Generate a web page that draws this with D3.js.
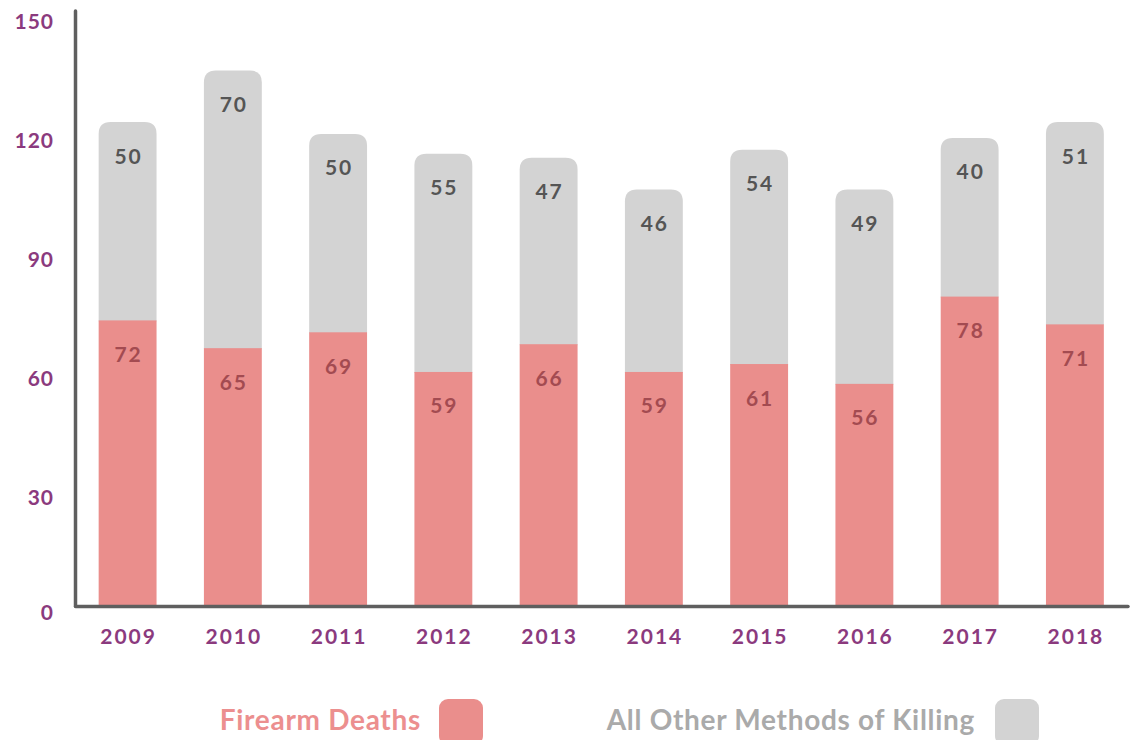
<!DOCTYPE html>
<html><head><meta charset="utf-8">
<script src="https://cdn.jsdelivr.net/npm/d3@7"></script>
<style>
html,body{margin:0;padding:0;background:#fff;}
svg{display:block;font-family:Lato,"Open Sans",sans-serif;}
</style></head>
<body><svg id="c" width="1132" height="740"></svg>
<script>
const years = ["2009","2010","2011","2012","2013","2014","2015","2016","2017","2018"];
const firearm = [72,65,69,59,66,59,61,56,78,71];
const other = [50,70,50,55,47,46,54,49,40,51];
const yTicks = [0,30,60,90,120,150];
const seriesNames = ["Firearm Deaths","All Other Methods of Killing"];

const svg = d3.select("#c");
const y = d3.scaleLinear().domain([0,150]).range([606,11]);
const x = d3.scaleBand().domain(years).range([75.5,1127]).paddingInner(0.45).paddingOuter(0.22);

const pink = "#ea8e8c", grey = "#d3d3d3";
const purple = "#8b3a7e";

// bars
const g = svg.append("g");
years.forEach((yr,i)=>{
  const x0 = x(yr), w = x.bandwidth();
  const top = y(firearm[i]+other[i]), mid = y(firearm[i]), base = y(0);
  const r = 12;
  g.append("path").attr("fill",grey)
    .attr("d",`M${x0},${mid+1} L${x0},${top+r} Q${x0},${top} ${x0+r},${top} L${x0+w-r},${top} Q${x0+w},${top} ${x0+w},${top+r} L${x0+w},${mid+1} Z`);
  g.append("rect").attr("fill",pink).attr("x",x0).attr("y",mid).attr("width",w).attr("height",base-mid);
  g.append("text").attr("x",x0+w/2+1).attr("y",top+33).attr("text-anchor","middle").attr("dominant-baseline","central")
    .attr("fill","#555").attr("font-size",21).attr("font-weight",700).attr("letter-spacing",2).text(other[i]);
  g.append("text").attr("x",x0+w/2+1).attr("y",mid+33).attr("text-anchor","middle").attr("dominant-baseline","central")
    .attr("fill","#a34b51").attr("font-size",21).attr("font-weight",700).attr("letter-spacing",2).text(firearm[i]);
});

// axes lines
svg.append("line").attr("x1",75.5).attr("x2",75.5).attr("y1",y(150)).attr("y2",y(0))
  .attr("stroke","#5f5f5f").attr("stroke-width",3.5).attr("stroke-linecap","round");
svg.append("line").attr("x1",75.5).attr("x2",1128).attr("y1",y(0)+0.5).attr("y2",y(0)+0.5)
  .attr("stroke","#5f5f5f").attr("stroke-width",3.5).attr("stroke-linecap","round");

// y tick labels
const yAxis = d3.axisLeft(y).tickValues(yTicks).tickSize(0).tickPadding(0);
const ya = svg.append("g").attr("transform","translate(54,0)").call(yAxis);
ya.select(".domain").remove();
ya.selectAll("text").attr("fill",purple).attr("font-size",21).attr("font-weight",700)
  .attr("font-family","Lato,sans-serif").attr("letter-spacing",1)
  .attr("dy",null).attr("dominant-baseline","central")
  .attr("transform",d=> d===0 ? "translate(0,5)" : "translate(0,9)");

// x labels
const xAxis = d3.axisBottom(x).tickSize(0).tickPadding(0);
const xa = svg.append("g").attr("transform","translate(0,635)").call(xAxis);
xa.select(".domain").remove();
xa.selectAll("text").attr("fill",purple).attr("font-size",21).attr("font-weight",700)
  .attr("font-family","Lato,sans-serif").attr("letter-spacing",2).attr("dx",1)
  .attr("dy",null).attr("dominant-baseline","central");

// legend
const leg = [
  {name:seriesNames[0], color:pink, textColor:"#ec8f8f", tx:421, sx:439},
  {name:seriesNames[1], color:grey, textColor:"#aaaaaa", tx:975, sx:995}
];
leg.forEach(l=>{
  svg.append("text").attr("x",l.tx).attr("y",719).attr("text-anchor","end").attr("dominant-baseline","central")
    .attr("fill",l.textColor).attr("font-size",28).attr("font-weight",700).attr("letter-spacing",0.7).text(l.name);
  svg.append("rect").attr("x",l.sx).attr("y",699).attr("width",44).attr("height",46).attr("rx",9).attr("fill",l.color);
});
</script></body></html>
